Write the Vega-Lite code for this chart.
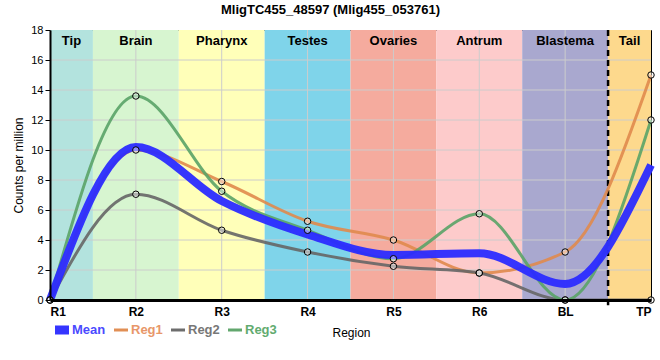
{
  "$schema": "https://vega.github.io/schema/vega-lite/v6.json",
  "autosize": "none",
  "width": 601,
  "height": 270,
  "padding": {"left": 50, "top": 30, "right": 9, "bottom": 60},
  "background": "white",
  "config": {
    "font": "Liberation Sans",
    "view": {"stroke": "black", "strokeWidth": 1}
  },
  "title": {"text": "MligTC455_48597 (Mlig455_053761)", "fontSize": 13, "fontWeight": "bold", "anchor": "middle", "dx": -20, "offset": 7, "color": "black"},
  "datasets": {
    "bands": [
      {"tissue": "Tip", "from": 0, "to": 0.5, "mid": 0.25},
      {"tissue": "Brain", "from": 0.5, "to": 1.5, "mid": 1},
      {"tissue": "Pharynx", "from": 1.5, "to": 2.5, "mid": 2},
      {"tissue": "Testes", "from": 2.5, "to": 3.5, "mid": 3},
      {"tissue": "Ovaries", "from": 3.5, "to": 4.5, "mid": 4},
      {"tissue": "Antrum", "from": 4.5, "to": 5.5, "mid": 5},
      {"tissue": "Blastema", "from": 5.5, "to": 6.5, "mid": 6},
      {"tissue": "Tail", "from": 6.5, "to": 7, "mid": 6.75}
    ],
    "ygrid": [
      {"tick": 2}, {"tick": 4}, {"tick": 6}, {"tick": 8}, {"tick": 10},
      {"tick": 12}, {"tick": 14}, {"tick": 16}
    ],
    "xgrid": [
      {"tick": 1}, {"tick": 2}, {"tick": 3}, {"tick": 4}, {"tick": 5}, {"tick": 6}
    ],
    "expr": [
      {"series": "Reg1", "idx": 0, "value": 0},
      {"series": "Reg1", "idx": 1, "value": 10.0},
      {"series": "Reg1", "idx": 2, "value": 7.9},
      {"series": "Reg1", "idx": 3, "value": 5.25},
      {"series": "Reg1", "idx": 4, "value": 4.0},
      {"series": "Reg1", "idx": 5, "value": 1.8},
      {"series": "Reg1", "idx": 6, "value": 3.2},
      {"series": "Reg1", "idx": 7, "value": 15.0},
      {"series": "Reg2", "idx": 0, "value": 0},
      {"series": "Reg2", "idx": 1, "value": 7.05},
      {"series": "Reg2", "idx": 2, "value": 4.65},
      {"series": "Reg2", "idx": 3, "value": 3.2},
      {"series": "Reg2", "idx": 4, "value": 2.25},
      {"series": "Reg2", "idx": 5, "value": 1.8},
      {"series": "Reg2", "idx": 6, "value": 0},
      {"series": "Reg2", "idx": 7, "value": 0},
      {"series": "Reg3", "idx": 0, "value": 0},
      {"series": "Reg3", "idx": 1, "value": 13.6},
      {"series": "Reg3", "idx": 2, "value": 7.25},
      {"series": "Reg3", "idx": 3, "value": 4.65},
      {"series": "Reg3", "idx": 4, "value": 2.75},
      {"series": "Reg3", "idx": 5, "value": 5.75},
      {"series": "Reg3", "idx": 6, "value": 0},
      {"series": "Reg3", "idx": 7, "value": 12.0},
      {"series": "Mean", "idx": 0, "value": 0},
      {"series": "Mean", "idx": 1, "value": 10.2},
      {"series": "Mean", "idx": 2, "value": 6.6},
      {"series": "Mean", "idx": 3, "value": 4.37},
      {"series": "Mean", "idx": 4, "value": 3.0},
      {"series": "Mean", "idx": 5, "value": 3.12},
      {"series": "Mean", "idx": 6, "value": 1.07},
      {"series": "Mean", "idx": 7, "value": 9.0}
    ]
  },
  "encoding": {
    "x": {
      "type": "quantitative",
      "scale": {"domain": [0, 7], "nice": false, "zero": false},
      "axis": {
        "values": [0, 1, 2, 3, 4, 5, 6, 7],
        "labelExpr": "['R1','R2','R3','R4','R5','R6','BL','TP'][datum.value]",
        "labelFont": "Liberation Sans", "labelFontSize": 12, "labelFontWeight": "bold", "labelColor": "black",
        "labelPadding": 6,
        "ticks": false,
        "grid": false,
        "domainColor": "black", "domainWidth": 3,
        "title": "Region", "titleFontSize": 12, "titleFontWeight": "normal", "titleColor": "black",
        "titleX": 282, "titleY": 32, "titleAlign": "left", "titleBaseline": "middle",
        "zindex": 1
      }
    },
    "y": {
      "type": "quantitative",
      "scale": {"domain": [0, 18], "nice": false},
      "axis": {
        "values": [0, 2, 4, 6, 8, 10, 12, 14, 16, 18],
        "labelFontSize": 11, "labelColor": "black", "labelPadding": 2,
        "tickSize": 5, "tickColor": "black",
        "grid": false,
        "domainColor": "black", "domainWidth": 2,
        "title": "Counts per million", "titleFontSize": 12, "titleFontWeight": "normal", "titleColor": "black", "titlePadding": 5,
        "zindex": 1
      }
    }
  },
  "layer": [
    {
      "data": {"name": "bands"},
      "mark": {"type": "rect"},
      "encoding": {
        "x": {"field": "from"},
        "x2": {"field": "to"},
        "fill": {
          "field": "tissue", "type": "nominal",
          "scale": {
            "domain": ["Tip", "Brain", "Pharynx", "Testes", "Ovaries", "Antrum", "Blastema", "Tail"],
            "range": ["#b3e3de", "#d7f5d0", "#ffffb9", "#7fd4ea", "#f5ab9e", "#fdcbcb", "#a9a8cf", "#fdd98d"]
          },
          "legend": null
        }
      }
    },
    {
      "data": {"name": "ygrid"},
      "mark": {"type": "rule", "color": "#cccccc", "strokeWidth": 1},
      "encoding": {"y": {"field": "tick"}}
    },
    {
      "data": {"name": "xgrid"},
      "mark": {"type": "rule", "color": "#cccccc", "strokeWidth": 1},
      "encoding": {"x": {"field": "tick"}}
    },
    {
      "data": {"name": "bands"},
      "mark": {"type": "text", "baseline": "top", "dy": 5, "fontSize": 13, "fontWeight": "bold", "color": "black"},
      "encoding": {
        "x": {"field": "mid"},
        "y": {"datum": 18},
        "text": {"field": "tissue"}
      }
    },
    {
      "data": {"values": [{"boundary": 6.5}]},
      "mark": {"type": "rule", "color": "black", "strokeWidth": 2.5, "strokeDash": [6, 4], "clip": false},
      "encoding": {
        "x": {"field": "boundary"},
        "y": {"datum": 18},
        "y2": {"datum": -0.35}
      }
    },
    {
      "data": {"name": "expr"},
      "transform": [{"filter": "datum.series !== 'Mean'"}],
      "mark": {"type": "line", "interpolate": "monotone", "opacity": 0.9, "strokeWidth": 3},
      "encoding": {
        "x": {"field": "idx"},
        "y": {"field": "value"},
        "stroke": {
          "field": "series", "type": "nominal",
          "scale": {"domain": ["Mean", "Reg1", "Reg2", "Reg3"], "range": ["#2b2bff", "#e08a4c", "#666666", "#5aa367"]},
          "legend": {
            "orient": "none", "legendX": 5, "legendY": 292, "direction": "horizontal", "title": null,
            "symbolType": "stroke", "symbolSize": 225, "labelOffset": 4, "columnPadding": 8,
            "clipHeight": 16,
            "symbolStrokeWidth": {"expr": "datum.value === 'Mean' ? 9 : 3"},
            "symbolOpacity": 0.9,
            "labelFontSize": 13, "labelFontWeight": "bold",
            "labelColor": {"expr": "datum.value === 'Mean' ? '#4a4aff' : datum.value === 'Reg1' ? '#e8976a' : datum.value === 'Reg2' ? '#777777' : '#62ab70'"}
          }
        }
      }
    },
    {
      "data": {"name": "expr"},
      "transform": [{"filter": "datum.series === 'Mean'"}],
      "mark": {"type": "line", "interpolate": "monotone", "opacity": 0.95, "strokeWidth": 8},
      "encoding": {
        "x": {"field": "idx"},
        "y": {"field": "value"},
        "stroke": {"field": "series", "type": "nominal"}
      }
    },
    {
      "data": {"name": "expr"},
      "transform": [{"filter": "datum.series !== 'Mean'"}],
      "mark": {"type": "point", "filled": false, "fill": "white", "fillOpacity": 0.45, "color": "black", "strokeWidth": 1, "size": 42, "opacity": 1, "clip": false},
      "encoding": {
        "x": {"field": "idx"},
        "y": {"field": "value"}
      }
    }
  ]
}
